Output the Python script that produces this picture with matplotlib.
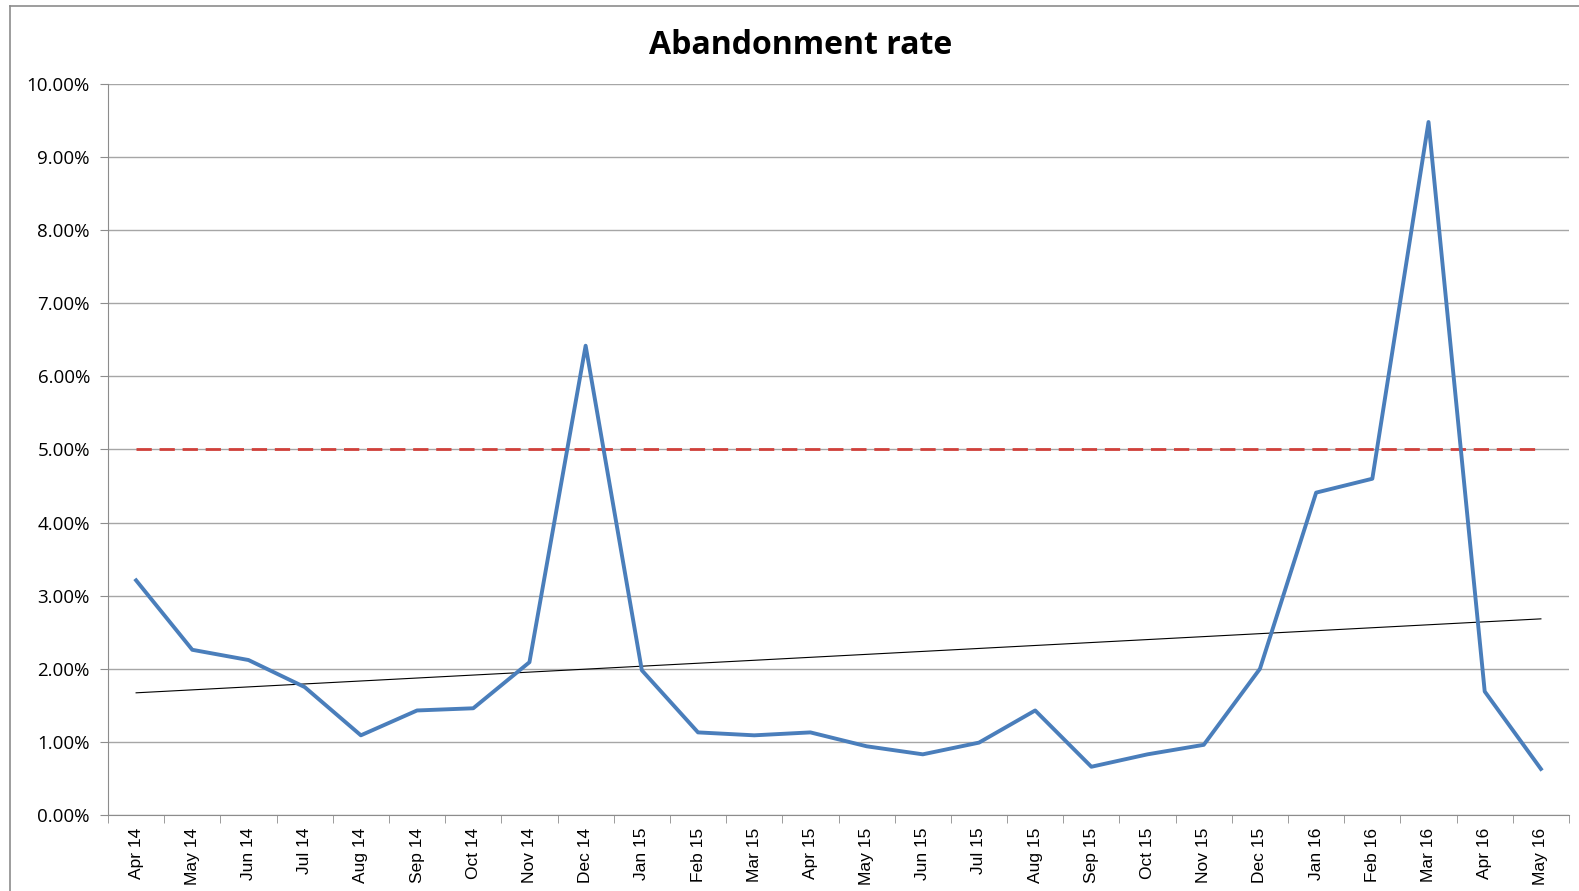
import numpy as np
import matplotlib
matplotlib.use("Agg")
from matplotlib import pyplot as plt
from matplotlib.ticker import FuncFormatter, FixedLocator

plt.rcParams['font.family'] = ['Open Sans', 'DejaVu Sans']

# month labels and abandonment rate (%)
months = ["Apr 14", "May 14", "Jun 14", "Jul 14", "Aug 14", "Sep 14", "Oct 14", "Nov 14",
          "Dec 14", "Jan 15", "Feb 15", "Mar 15", "Apr 15", "May 15", "Jun 15", "Jul 15",
          "Aug 15", "Sep 15", "Oct 15", "Nov 15", "Dec 15", "Jan 16", "Feb 16", "Mar 16",
          "Apr 16", "May 16"]
rate = [3.21, 2.26, 2.12, 1.75, 1.09, 1.43, 1.46, 2.09,
        6.42, 1.98, 1.13, 1.09, 1.13, 0.94, 0.83, 0.99,
        1.43, 0.66, 0.83, 0.96, 2.00, 4.41, 4.60, 9.48,
        1.69, 0.63]
target = 5.0

x = np.arange(len(months))

fig = plt.figure(figsize=(15.79, 8.91), dpi=100)
ax = fig.add_axes([108 / 1579, 1 - 815 / 891, (1569 - 108) / 1579, (815 - 84) / 891])

# gray frame around the chart (cut at right/bottom like the screenshot)
fig.add_artist(plt.Line2D([10 / 1579, 10 / 1579], [0, 1 - 6 / 891], color="#8c8c8c", lw=1.2))
fig.add_artist(plt.Line2D([10 / 1579, 1], [1 - 6 / 891, 1 - 6 / 891], color="#8c8c8c", lw=1.2))

# linear trend line
k, b = np.polyfit(x, rate, 1)
ax.plot(x, k * x + b, color="black", lw=0.8, zorder=3)

# target line
ax.plot(x, [target] * len(x), color="#D0403A", lw=2.0, dashes=(5.5, 2.8), zorder=3)

# main series
ax.plot(x, rate, color="#4A7EBB", lw=2.8, solid_joinstyle="round", zorder=4)

ax.set_xlim(-0.5, len(months) - 0.5)
ax.set_ylim(0, 10)
ax.set_yticks(np.arange(0, 10.01, 1))
ax.yaxis.set_major_formatter(FuncFormatter(lambda v, p: "%.2f%%" % v))
ax.grid(axis="y", color="#a6a6a6", lw=1.0)
ax.set_axisbelow(True)

ax.set_xticks(x)
ax.set_xticklabels(months, rotation=90, fontsize=12.5, family=['Liberation Sans', 'DejaVu Sans'])
ax.xaxis.set_minor_locator(FixedLocator(np.arange(-0.5, len(months), 1)))
ax.tick_params(axis="x", which="major", length=0, pad=9)
ax.tick_params(axis="x", which="minor", length=6, color="#8c8c8c", direction="out")
ax.tick_params(axis="y", length=6, color="#8c8c8c", labelsize=13.5, pad=7)

for s in ["top", "right"]:
    ax.spines[s].set_visible(False)
ax.spines["left"].set_color("#8c8c8c")
ax.spines["bottom"].set_color("#8c8c8c")

fig.text(801 / 1579, 1 - 45 / 891, "Abandonment rate", ha="center", va="center",
         fontsize=23, fontweight="bold")

plt.savefig("out.png", dpi=100)
